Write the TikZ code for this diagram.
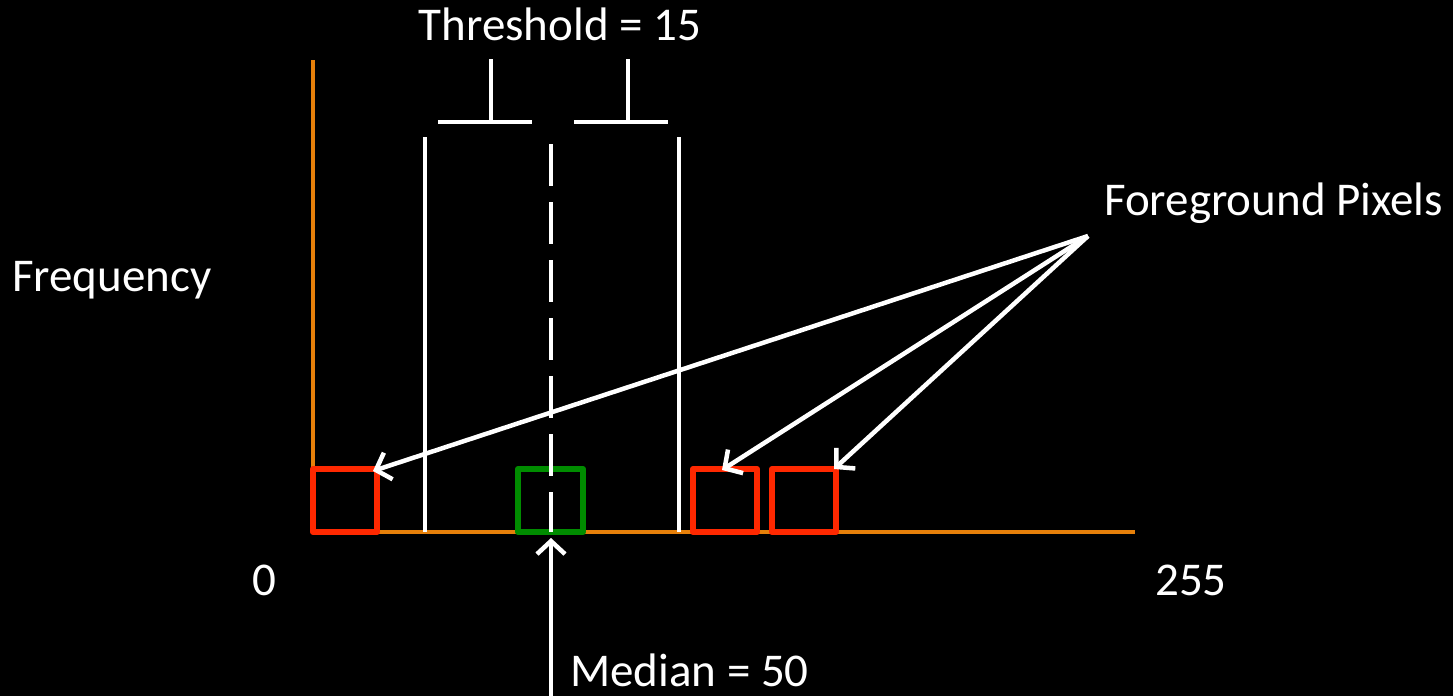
\documentclass[tikz,border=0pt]{standalone}
\usepackage{fontspec}
\setmainfont{Carlito}
\usetikzlibrary{arrows.meta}
\definecolor{axisor}{RGB}{230,128,10}
\definecolor{boxred}{RGB}{255,40,0}
\definecolor{boxgreen}{RGB}{0,140,0}
\tikzset{
  axisline/.style={draw=axisor,line width=4.5pt},
  redbox/.style={draw=boxred,line width=6pt,line join=round,minimum width=64pt,minimum height=63pt,inner sep=0pt},
  greenbox/.style={draw=boxgreen,line width=6pt,line join=round,minimum width=65pt,minimum height=63pt,inner sep=0pt},
  wline/.style={draw=white,line width=4.5pt},
  ptr/.style={draw=white,line width=4.5pt,-{Straight Barb[length=13pt,width=28pt,line width=4.5pt]}},
  lbl/.style={text=white,font=\fontsize{47}{52}\selectfont,inner sep=0pt},
}
\begin{document}
\begin{tikzpicture}[x=1pt,y=-1pt]
\fill[black] (0,0) rectangle (1453,696);
\useasboundingbox (0,0) rectangle (1453,696);
% axes
\coordinate (ytop) at (313,60);
\coordinate (orig) at (313,532);
\coordinate (xend) at (1135,532);
\draw[axisline] (ytop) -- (orig) -- (xend);
% boxes
\node[greenbox] (g) at (550.5,500.5) {};
\node[redbox] (r1) at (345,500.5) {};
\node[redbox] (r2) at (725,500.5) {};
\node[redbox] (r3) at (804,500.5) {};
% threshold lines
\coordinate (l1t) at (425,137); \coordinate (l1b) at (425,532);
\coordinate (l2t) at (679,137); \coordinate (l2b) at (679,532);
\draw[wline] (l1t) -- (l1b);
\draw[wline] (l2t) -- (l2b);
% median dashed line
\coordinate (mt) at (551,144); \coordinate (mb) at (551,532);
\draw[wline,dash pattern=on 42pt off 16pt] (mt) -- (mb);
% brackets
\coordinate (b1l) at (438,122); \coordinate (b1r) at (532,122);
\coordinate (b1t) at (491,59); \coordinate (b1b) at (491,122);
\coordinate (b2l) at (574,122); \coordinate (b2r) at (668,122);
\coordinate (b2t) at (628,59); \coordinate (b2b) at (628,122);
\draw[wline] (b1l) -- (b1r);
\draw[wline] (b1t) -- (b1b);
\draw[wline] (b2l) -- (b2r);
\draw[wline] (b2t) -- (b2b);
% labels
\node[lbl] (thr) at (560,24) {Threshold = 15};
\node[lbl,anchor=west] (freq) at (12,280) {Frequency};
\node[lbl] (zero) at (264,580) {0};
\node[lbl] (top) at (1191,580) {255};
\node[lbl,anchor=west] (med) at (570,670) {Median = 50};
\node[lbl,anchor=west] (fg) at (1104,203) {Foreground Pixels};
% arrows
\coordinate (ms) at (551,700);
\coordinate (me) at (551,538);
\draw[ptr] (ms) -- (me);
\coordinate (fs) at (1088,236);
\coordinate (a1) at (373,471);
\coordinate (a2) at (722,470);
\coordinate (a3) at (834,469);
\draw[ptr] (fs) -- (a1);
\draw[ptr] (fs) -- (a2);
\draw[ptr] (fs) -- (a3);
\end{tikzpicture}
\end{document}
